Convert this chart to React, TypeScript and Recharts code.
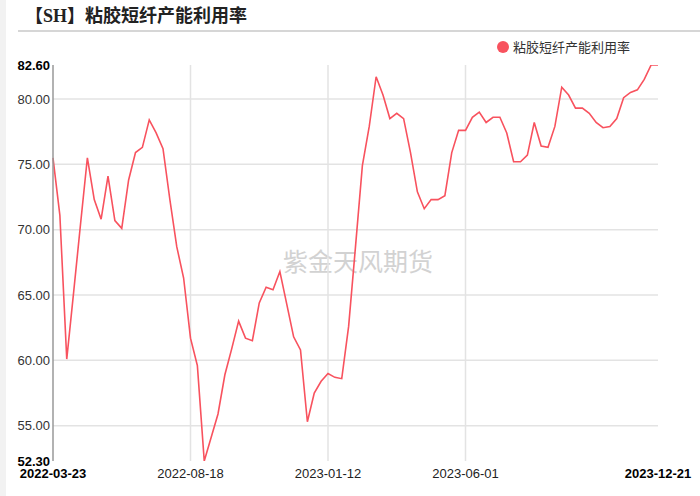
import * as React from "react";
import { LineChart, Line, XAxis, YAxis, ReferenceLine } from "recharts";

// weekly observation dates (holiday weeks missing)
const dates = [
  "2022-03-23", "2022-03-31", "2022-04-07", "2022-04-14", "2022-04-21", "2022-04-28",
  "2022-05-12", "2022-05-19", "2022-05-26", "2022-06-02", "2022-06-09", "2022-06-16",
  "2022-06-23", "2022-06-30", "2022-07-07", "2022-07-14", "2022-07-21", "2022-07-28",
  "2022-08-04", "2022-08-11", "2022-08-18", "2022-08-25", "2022-09-01", "2022-09-08",
  "2022-09-15", "2022-09-22", "2022-09-29", "2022-10-13", "2022-10-20", "2022-10-27",
  "2022-11-03", "2022-11-10", "2022-11-17", "2022-11-24", "2022-12-01", "2022-12-08",
  "2022-12-15", "2022-12-22", "2022-12-29", "2023-01-05", "2023-01-12", "2023-01-19",
  "2023-01-26", "2023-02-02", "2023-02-09", "2023-02-16", "2023-02-23", "2023-03-02",
  "2023-03-09", "2023-03-16", "2023-03-23", "2023-03-30", "2023-04-06", "2023-04-13",
  "2023-04-20", "2023-04-27", "2023-05-04", "2023-05-11", "2023-05-18", "2023-05-25",
  "2023-06-01", "2023-06-08", "2023-06-15", "2023-06-22", "2023-06-29", "2023-07-06",
  "2023-07-13", "2023-07-20", "2023-07-27", "2023-08-03", "2023-08-10", "2023-08-17",
  "2023-08-24", "2023-08-31", "2023-09-07", "2023-09-14", "2023-09-21", "2023-09-28",
  "2023-10-12", "2023-10-19", "2023-10-26", "2023-11-02", "2023-11-09", "2023-11-16",
  "2023-11-23", "2023-11-30", "2023-12-07", "2023-12-14", "2023-12-21",
];

// 粘胶短纤产能利用率 (%)
const utilization = [
  75.5, 71.1, 60.1, 65.2, 70.4, 75.5, 72.3, 70.8, 74.1, 70.7, 70.1, 73.8,
  75.9, 76.3, 78.4, 77.4, 76.2, 72.3, 68.7, 66.3, 61.7, 59.6, 52.3, 54.1,
  55.9, 58.9, 60.9, 63.0, 61.7, 61.5, 64.4, 65.6, 65.4, 66.8, 64.3, 61.8,
  60.8, 55.3, 57.5, 58.4, 59.0, 58.7, 58.6, 62.6, 68.7, 74.9, 77.9, 81.7,
  80.3, 78.5, 78.9, 78.5, 75.9, 72.9, 71.6, 72.3, 72.3, 72.6, 75.9, 77.6,
  77.6, 78.6, 79.0, 78.2, 78.6, 78.6, 77.4, 75.2, 75.2, 75.7, 78.2, 76.4,
  76.3, 77.9, 80.9, 80.3, 79.3, 79.3, 78.9, 78.2, 77.8, 77.9, 78.5, 80.1,
  80.5, 80.7, 81.5, 82.6, 82.6,
];

const xLabels = ["2022-03-23", "2022-08-18", "2023-01-12", "2023-06-01", "2023-12-21"];
const xGrid = ["2022-08-18", "2023-01-12", "2023-06-01"];
const yTicks = [52.3, 55, 60, 65, 70, 75, 80, 82.6];
const yGrid = [55, 60, 65, 70, 75, 80];
const yMin = 52.3;
const yMax = 82.6;

const data = dates.map((d, i) => ({ date: d, value: utilization[i] }));

const RED = "#f8525e";
const AXIS_FONT = '"Liberation Sans", Arial, sans-serif';
const CJK_FONT = '"Noto Sans CJK SC", "Noto Sans", sans-serif';

const XTick = (props: any) => {
  const { x, y, payload } = props;
  const v = payload.value;
  if (!xLabels.includes(v)) return null;
  const bold = v === dates[0] || v === dates[dates.length - 1];
  return (
    <text
      x={x}
      y={y}
      dy="0.71em"
      textAnchor="middle"
      fontSize={13}
      fontFamily={AXIS_FONT}
      fontWeight={bold ? 700 : 400}
      fill={bold ? "#000" : "#222"}
    >
      {v}
    </text>
  );
};

const YTick = (props: any) => {
  const { x, y, payload } = props;
  const v = payload.value;
  const bold = v === yMin || v === yMax;
  return (
    <text
      x={x}
      y={y}
      dy="0.355em"
      textAnchor="end"
      fontSize={13}
      fontFamily={AXIS_FONT}
      fontWeight={bold ? 700 : 400}
      fill={bold ? "#000" : "#333"}
    >
      {Number(v).toFixed(2)}
    </text>
  );
};

export default function App() {
  return (
    <div
      style={{
        position: "absolute",
        left: 0,
        top: 0,
        width: 700,
        height: 496,
        background: "#fff",
        overflow: "hidden",
      }}
    >
      <div style={{ position: "absolute", left: 0, top: 0, width: 6, height: 496, background: "#f2f2f2" }} />
      <div
        style={{
          position: "absolute",
          left: 25,
          top: 2,
          fontSize: 18,
          fontWeight: 700,
          fontFamily: CJK_FONT,
          color: "#222",
          whiteSpace: "nowrap",
          lineHeight: "24px",
        }}
      >
        【<span style={{ fontFamily: '"Liberation Serif", serif' }}>SH</span>】粘胶短纤产能利用率
      </div>
      <div style={{ position: "absolute", left: 18, top: 30, width: 682, height: 1.5, background: "#d6d6d6" }} />

      <div
        style={{
          position: "absolute",
          left: 497,
          top: 37,
          display: "flex",
          alignItems: "center",
          whiteSpace: "nowrap",
        }}
      >
        <span style={{ width: 12, height: 12, borderRadius: 6, background: RED, display: "inline-block" }} />
        <span style={{ marginLeft: 4, fontSize: 13, fontFamily: CJK_FONT, color: "#333", lineHeight: "20px" }}>
          粘胶短纤产能利用率
        </span>
      </div>

      <div
        style={{
          position: "absolute",
          left: 283,
          top: 243,
          fontSize: 25,
          fontFamily: CJK_FONT,
          color: "#d2d2d2",
          whiteSpace: "nowrap",
          lineHeight: "34px",
        }}
      >
        紫金天风期货
      </div>

      <div style={{ position: "absolute", left: 0, top: 0 }}>
        <LineChart width={700} height={496} data={data} margin={{ top: 65, right: 42, bottom: 0, left: 0 }}>
          {yGrid.map((v) => (
            <ReferenceLine key={`h-${v}`} y={v} stroke="#e3e3e3" strokeWidth={1.5} />
          ))}
          {xGrid.map((d) => (
            <ReferenceLine key={`v-${d}`} x={d} stroke="#e3e3e3" strokeWidth={1.5} />
          ))}
          <XAxis
            dataKey="date"
            type="category"
            scale="point"
            padding={{ left: 0, right: 0 }}
            interval={0}
            height={35}
            axisLine={false}
            tickLine={false}
            tickSize={0}
            tickMargin={8}
            tick={<XTick />}
          />
          <YAxis
            type="number"
            domain={[yMin, yMax]}
            ticks={yTicks}
            interval={0}
            width={53}
            axisLine={{ stroke: "#999", strokeWidth: 1.5 }}
            tickLine={false}
            tickSize={0}
            tickMargin={3}
            tick={<YTick />}
            allowDataOverflow
          />
          <Line
            type="linear"
            dataKey="value"
            stroke={RED}
            strokeWidth={1.6}
            dot={false}
            isAnimationActive={false}
          />
        </LineChart>
      </div>
    </div>
  );
}
